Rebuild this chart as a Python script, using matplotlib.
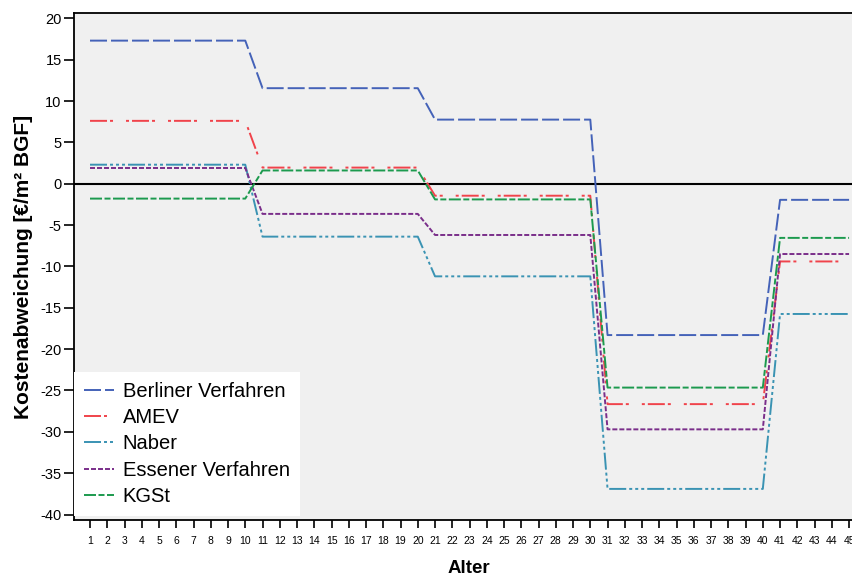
import matplotlib
matplotlib.use("Agg")
import matplotlib.pyplot as plt

plt.rcParams['font.family'] = ['Liberation Sans', 'DejaVu Sans']
plt.rcParams['lines.scale_dashes'] = False

ages = list(range(1, 46))
xtick_labels = [str(a) for a in ages]

berliner = [17.3, 17.3, 17.3, 17.3, 17.3, 17.3, 17.3, 17.3, 17.3, 17.3,
            11.55, 11.55, 11.55, 11.55, 11.55, 11.55, 11.55, 11.55, 11.55, 11.55,
            7.75, 7.75, 7.75, 7.75, 7.75, 7.75, 7.75, 7.75, 7.75, 7.75,
            -18.3, -18.3, -18.3, -18.3, -18.3, -18.3, -18.3, -18.3, -18.3, -18.3,
            -1.95, -1.95, -1.95, -1.95, -1.95]
amev = [7.6, 7.6, 7.6, 7.6, 7.6, 7.6, 7.6, 7.6, 7.6, 7.6,
        1.95, 1.95, 1.95, 1.95, 1.95, 1.95, 1.95, 1.95, 1.95, 1.95,
        -1.45, -1.45, -1.45, -1.45, -1.45, -1.45, -1.45, -1.45, -1.45, -1.45,
        -26.65, -26.65, -26.65, -26.65, -26.65, -26.65, -26.65, -26.65, -26.65, -26.65,
        -9.4, -9.4, -9.4, -9.4, -9.4]
naber = [2.3, 2.3, 2.3, 2.3, 2.3, 2.3, 2.3, 2.3, 2.3, 2.3,
         -6.4, -6.4, -6.4, -6.4, -6.4, -6.4, -6.4, -6.4, -6.4, -6.4,
         -11.2, -11.2, -11.2, -11.2, -11.2, -11.2, -11.2, -11.2, -11.2, -11.2,
         -36.9, -36.9, -36.9, -36.9, -36.9, -36.9, -36.9, -36.9, -36.9, -36.9,
         -15.75, -15.75, -15.75, -15.75, -15.75]
essener = [1.9, 1.9, 1.9, 1.9, 1.9, 1.9, 1.9, 1.9, 1.9, 1.9,
           -3.65, -3.65, -3.65, -3.65, -3.65, -3.65, -3.65, -3.65, -3.65, -3.65,
           -6.2, -6.2, -6.2, -6.2, -6.2, -6.2, -6.2, -6.2, -6.2, -6.2,
           -29.7, -29.7, -29.7, -29.7, -29.7, -29.7, -29.7, -29.7, -29.7, -29.7,
           -8.5, -8.5, -8.5, -8.5, -8.5]
kgst = [-1.8, -1.8, -1.8, -1.8, -1.8, -1.8, -1.8, -1.8, -1.8, -1.8,
        1.6, 1.6, 1.6, 1.6, 1.6, 1.6, 1.6, 1.6, 1.6, 1.6,
        -1.9, -1.9, -1.9, -1.9, -1.9, -1.9, -1.9, -1.9, -1.9, -1.9,
        -24.65, -24.65, -24.65, -24.65, -24.65, -24.65, -24.65, -24.65, -24.65, -24.65,
        -6.55, -6.55, -6.55, -6.55, -6.55]

series_names = ["Berliner Verfahren", "AMEV", "Naber", "Essener Verfahren", "KGSt"]
yticks = [20, 15, 10, 5, 0, -5, -10, -15, -20, -25, -30, -35, -40]

px = 72 / 100.0  # pixels -> points
styles = [
    dict(color="#4462B8", dashes=(0, (17 * px, 4 * px))),
    dict(color="#F0434B", dashes=(0, (17 * px, 3 * px, 3 * px, 13 * px, 3 * px, 3 * px))),
    dict(color="#3A93B3", dashes=(0, (17 * px, 3 * px, 3 * px, 3 * px, 3 * px, 3 * px, 3 * px, 3 * px))),
    dict(color="#7A2E8A", dashes=(0, (5 * px, 2 * px))),
    dict(color="#1C9A4E", dashes=(0, (12 * px, 2.5 * px, 6 * px, 2.5 * px))),
]

fig = plt.figure(figsize=(8.52, 5.79), dpi=100)
ax = fig.add_axes([73.5 / 852, 59 / 579, 1 - 73.5 / 852, (520 - 13) / 579])
ax.set_facecolor("#F0F0F0")

for name, vals, st in zip(series_names, [berliner, amev, naber, essener, kgst], styles):
    ln, = ax.plot(ages, vals, color=st["color"], lw=1.4, label=name)
    ln.set_linestyle(st["dashes"])

ax.axhline(0, color="black", lw=1.5, zorder=1)

ax.set_xlim(0.043, 45.17)
ax.set_ylim(-40.66, 20.64)
ax.set_xticks(ages)
ax.set_xticklabels(xtick_labels, fontsize=7.5)
ax.set_yticks(yticks)
ax.set_yticklabels([str(v) for v in yticks], fontsize=10.5)
ax.tick_params(axis="x", direction="out", length=5.5, width=1.2, pad=6)
ax.tick_params(axis="y", direction="out", length=7, width=1.2, pad=1.5)

for s in ["left", "bottom", "top"]:
    ax.spines[s].set_linewidth(1.3)
    ax.spines[s].set_color("black")
ax.spines["right"].set_visible(False)

ax.set_xlabel("Alter", fontsize=13.5, fontweight="bold")
ax.xaxis.set_label_coords(0.508, -0.079)
ax.set_ylabel("Kostenabweichung [€/m² BGF]", fontsize=15, fontweight="bold", labelpad=5)

leg = ax.legend(loc="lower left", bbox_to_anchor=(0.0, 0.008), borderaxespad=0,
                fontsize=14.5, frameon=True, fancybox=False, framealpha=1,
                handlelength=1.5, handletextpad=0.45, labelspacing=0.36,
                borderpad=0.5)
leg.get_frame().set_facecolor("white")
leg.get_frame().set_edgecolor("none")

fig.savefig("out.png", dpi=100)
